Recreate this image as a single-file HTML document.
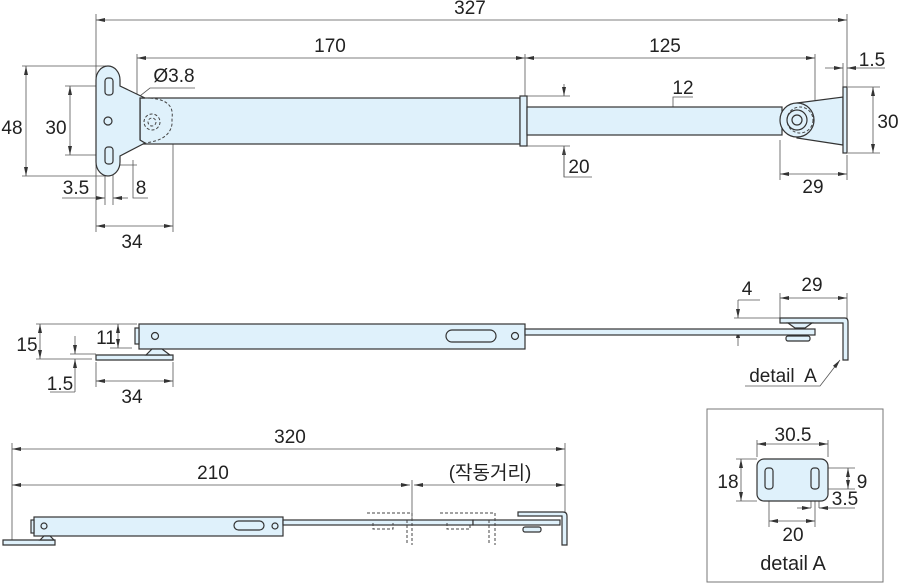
<!DOCTYPE html>
<html><head><meta charset="utf-8"><style>
html,body{margin:0;padding:0;background:#fff;}
svg{display:block;}
text{font-family:"Liberation Sans","Noto Sans CJK KR",sans-serif;font-size:19px;fill:#222;}
.p{fill:#dff1fb;stroke:#333;stroke-width:1.2;}
.o{fill:none;stroke:#333;stroke-width:1.2;}
.d{fill:none;stroke:#555;stroke-width:0.8;}
.ds{fill:none;stroke:#444;stroke-width:1;stroke-dasharray:3,2;}
</style></head><body>
<svg width="900" height="585" viewBox="0 0 900 585" xmlns="http://www.w3.org/2000/svg">
<defs>
<marker id="a" markerWidth="9" markerHeight="6" refX="9" refY="3" orient="auto-start-reverse" markerUnits="userSpaceOnUse"><path d="M0,1 L9,3 L0,5z" fill="#333"/></marker>
</defs>
<!-- ===== TOP VIEW ===== -->
<path class="d" d="M96,14V232 M847,14V95 M137,54V97 M525,54V96 M815,54V100 M22,66H110 M22,176H110 M65,86H105 M65,155H105 M105,165V205 M113,165V205 M173,120V232 M780,140V180 M847,155V180 M527,96H570 M527,146H570 M848,87H880 M848,153H880 M843,63V87 M847,63V87"/>
<path class="d" d="M96,20H847" marker-start="url(#a)" marker-end="url(#a)"/>
<path class="d" d="M137,58H525" marker-start="url(#a)" marker-end="url(#a)"/>
<path class="d" d="M525,58H815" marker-start="url(#a)" marker-end="url(#a)"/>
<path class="d" d="M26,66V176" marker-start="url(#a)" marker-end="url(#a)"/>
<path class="d" d="M70,86V155" marker-start="url(#a)" marker-end="url(#a)"/>
<path class="d" d="M96,226H173" marker-start="url(#a)" marker-end="url(#a)"/>
<path class="d" d="M780,174H847" marker-start="url(#a)" marker-end="url(#a)"/>
<path class="d" d="M873,87V153" marker-start="url(#a)" marker-end="url(#a)"/>
<path class="d" d="M62,198H105" marker-end="url(#a)"/><path class="d" d="M128,198H113" marker-end="url(#a)"/>
<path class="d" d="M825,68H843" marker-end="url(#a)"/><path class="d" d="M885,68H847" marker-end="url(#a)"/>
<path class="d" d="M564,84V96" marker-end="url(#a)"/><path class="d" d="M564,177V146" marker-end="url(#a)"/><path class="d" d="M564,146V177H592"/>
<path class="d" d="M673,107V135" marker-start="url(#a)" marker-end="url(#a)"/><path class="d" d="M673,107V97H693 M668,107H680 M668,135H680"/>
<path class="d" d="M133,128V147" marker-end="url(#a)"/><path class="d" d="M133,165V198H148 M133,165V160" />
<path class="d" d="M118,165H137"/>
<path class="d" d="M195,88H150L112,118" marker-end="url(#a)"/>
<rect class="p" x="140" y="98" width="380" height="46"/>
<rect class="p" x="136" y="101" width="4" height="40"/>
<rect class="p" x="520" y="96" width="7" height="50"/>
<rect class="p" x="527" y="107" width="255" height="28"/>
<path class="p" d="M96,80 A12,14 0 0 1 120,80 L120,86 L145,98 L140,98 L140,140 L145,143 L120,156 L120,162 A12,14 0 0 1 96,162 Z"/>
<path class="ds" d="M145,98 Q175,98 172,118 L172,124 Q170,140 145,143"/>
<circle class="ds" cx="152" cy="122" r="8"/><circle class="ds" cx="152" cy="122" r="4"/>
<rect class="o" x="105" y="78" width="8" height="17" rx="3" fill="#fff"/>
<rect class="o" x="105" y="147" width="8" height="17" rx="3" fill="#fff"/>
<circle class="o" cx="108" cy="121" r="4" fill="#fff"/>
<path class="p" d="M797,103 L843,97 L843,145 L797,138 Z"/>
<circle class="p" cx="797" cy="120" r="17"/>
<circle class="ds" cx="800" cy="120" r="13"/>
<circle class="o" cx="797" cy="120" r="10"/><circle class="o" cx="797" cy="120" r="5"/>
<rect class="p" x="843" y="87" width="4" height="66"/>
<text x="470" y="14" text-anchor="middle">327</text>
<text x="330" y="52" text-anchor="middle">170</text>
<text x="665" y="52" text-anchor="middle">125</text>
<text x="174" y="82" text-anchor="middle">Ø3.8</text>
<text x="12" y="134" text-anchor="middle">48</text>
<text x="56" y="134" text-anchor="middle">30</text>
<text x="76" y="194" text-anchor="middle">3.5</text>
<text x="141" y="194" text-anchor="middle">8</text>
<text x="132" y="248" text-anchor="middle">34</text>
<text x="579" y="173" text-anchor="middle">20</text>
<text x="683" y="94" text-anchor="middle">12</text>
<text x="872" y="66" text-anchor="middle">1.5</text>
<text x="888" y="128" text-anchor="middle">30</text>
<text x="813" y="193" text-anchor="middle">29</text>
<!-- ===== SIDE VIEW ===== -->
<path class="d" d="M36,324H137 M36,359H92 M110,324H132 M110,348H132 M70,354H96 M96,362V387 M173,362V387 M780,293V318 M847,293V352 M734,318H780 M734,329H760"/>
<path class="d" d="M40,324V359" marker-start="url(#a)" marker-end="url(#a)"/>
<path class="d" d="M118,324V348" marker-start="url(#a)" marker-end="url(#a)"/>
<path class="d" d="M96,381H173" marker-start="url(#a)" marker-end="url(#a)"/>
<path class="d" d="M780,298H847" marker-start="url(#a)" marker-end="url(#a)"/>
<path class="d" d="M75,336V354" marker-end="url(#a)"/><path class="d" d="M75,392V359" marker-end="url(#a)"/><path class="d" d="M75,392H50"/>
<path class="d" d="M738,300V318" marker-end="url(#a)"/><path class="d" d="M738,346V329" marker-end="url(#a)"/><path class="d" d="M738,300H760"/>
<path class="d" d="M745,386H820L840,360" marker-end="url(#a)"/>
<rect class="p" x="139" y="324" width="386" height="25"/>
<rect class="p" x="135" y="328" width="4" height="16"/>
<circle class="o" cx="155" cy="336" r="3.5"/><circle class="o" cx="515" cy="336" r="3.5"/>
<rect class="o" x="446" y="330" width="50" height="12" rx="6" fill="#fff"/>
<rect class="p" x="525" y="329" width="290" height="6"/>
<path class="p" d="M96,355H173V360H96Z"/>
<path class="p" d="M146,355 L152,349H162L170,355Z"/>
<path class="p" d="M780,318H845Q848,318 848,322V360H843V323H780Z"/>
<path class="p" d="M788,323 L795,328H805L812,323Z"/>
<rect class="p" x="786" y="336" width="24" height="5" rx="2"/>
<text x="27" y="351" text-anchor="middle">15</text>
<text x="106" y="344" text-anchor="middle">11</text>
<text x="60" y="390" text-anchor="middle">1.5</text>
<text x="132" y="403" text-anchor="middle">34</text>
<text x="747" y="295" text-anchor="middle">4</text>
<text x="812" y="291" text-anchor="middle">29</text>
<text x="783" y="382" text-anchor="middle">detail&#160; A</text>
<!-- ===== BOTTOM VIEW ===== -->
<path class="d" d="M12,443V540 M565,443V512 M412,480V520"/>
<path class="d" d="M12,449H565" marker-start="url(#a)" marker-end="url(#a)"/>
<path class="d" d="M12,485H410" marker-start="url(#a)" marker-end="url(#a)"/>
<path class="d" d="M414,485H565" marker-start="url(#a)" marker-end="url(#a)"/>
<rect class="p" x="34" y="517" width="249" height="19"/>
<rect class="p" x="31" y="520" width="3" height="13"/>
<circle class="o" cx="44" cy="526" r="3"/><circle class="o" cx="275" cy="526" r="3"/>
<rect class="o" x="234" y="521" width="30" height="9" rx="4.5" fill="#fff"/>
<rect class="p" x="283" y="520" width="190" height="5"/>
<rect class="p" x="473" y="520" width="87" height="5"/>
<path class="p" d="M3,540H55V545H3Z"/><path class="p" d="M40,540 L44,536H50L54,540Z"/>
<path class="p" d="M518,512H563Q567,512 567,516V545H562V516H518Z"/>
<rect class="p" x="523" y="527" width="18" height="5" rx="2"/>
<path class="ds" d="M367,513H412V545 M373,523V529H393V523 M440,513H495V545 M447,523V529H470V523 M407,520V545 M489,520V545"/>
<text x="290" y="443" text-anchor="middle">320</text>
<text x="213" y="479" text-anchor="middle">210</text>
<text x="490" y="479" text-anchor="middle">(작동거리)</text>
<!-- ===== DETAIL A ===== -->
<rect x="707" y="409" width="176" height="173" fill="none" stroke="#777" stroke-width="1"/>
<path class="d" d="M757,440V457 M828,440V457 M736,459H757 M736,501H757 M820,468H855 M820,489H855 M769,490V527 M815,490V527 M811,490V508 M819,490V508"/>
<path class="d" d="M757,444H828" marker-start="url(#a)" marker-end="url(#a)"/>
<path class="d" d="M741,459V501" marker-start="url(#a)" marker-end="url(#a)"/>
<path class="d" d="M848,468V489" marker-start="url(#a)" marker-end="url(#a)"/>
<path class="d" d="M769,521H815" marker-start="url(#a)" marker-end="url(#a)"/>
<path class="d" d="M797,508H811" marker-end="url(#a)"/><path class="d" d="M855,508H819" marker-end="url(#a)"/>
<rect class="p" x="757" y="459" width="71" height="42" rx="7"/>
<rect class="o" x="765" y="468" width="8" height="21" rx="3" fill="#fff"/>
<rect class="o" x="811" y="468" width="8" height="21" rx="3" fill="#fff"/>
<text x="793" y="441" text-anchor="middle">30.5</text>
<text x="728" y="488" text-anchor="middle">18</text>
<text x="862" y="488" text-anchor="middle">9</text>
<text x="845" y="505" text-anchor="middle">3.5</text>
<text x="793" y="541" text-anchor="middle">20</text>
<text x="793" y="570" text-anchor="middle" style="font-size:20px">detail A</text>
</svg>
</body></html>
